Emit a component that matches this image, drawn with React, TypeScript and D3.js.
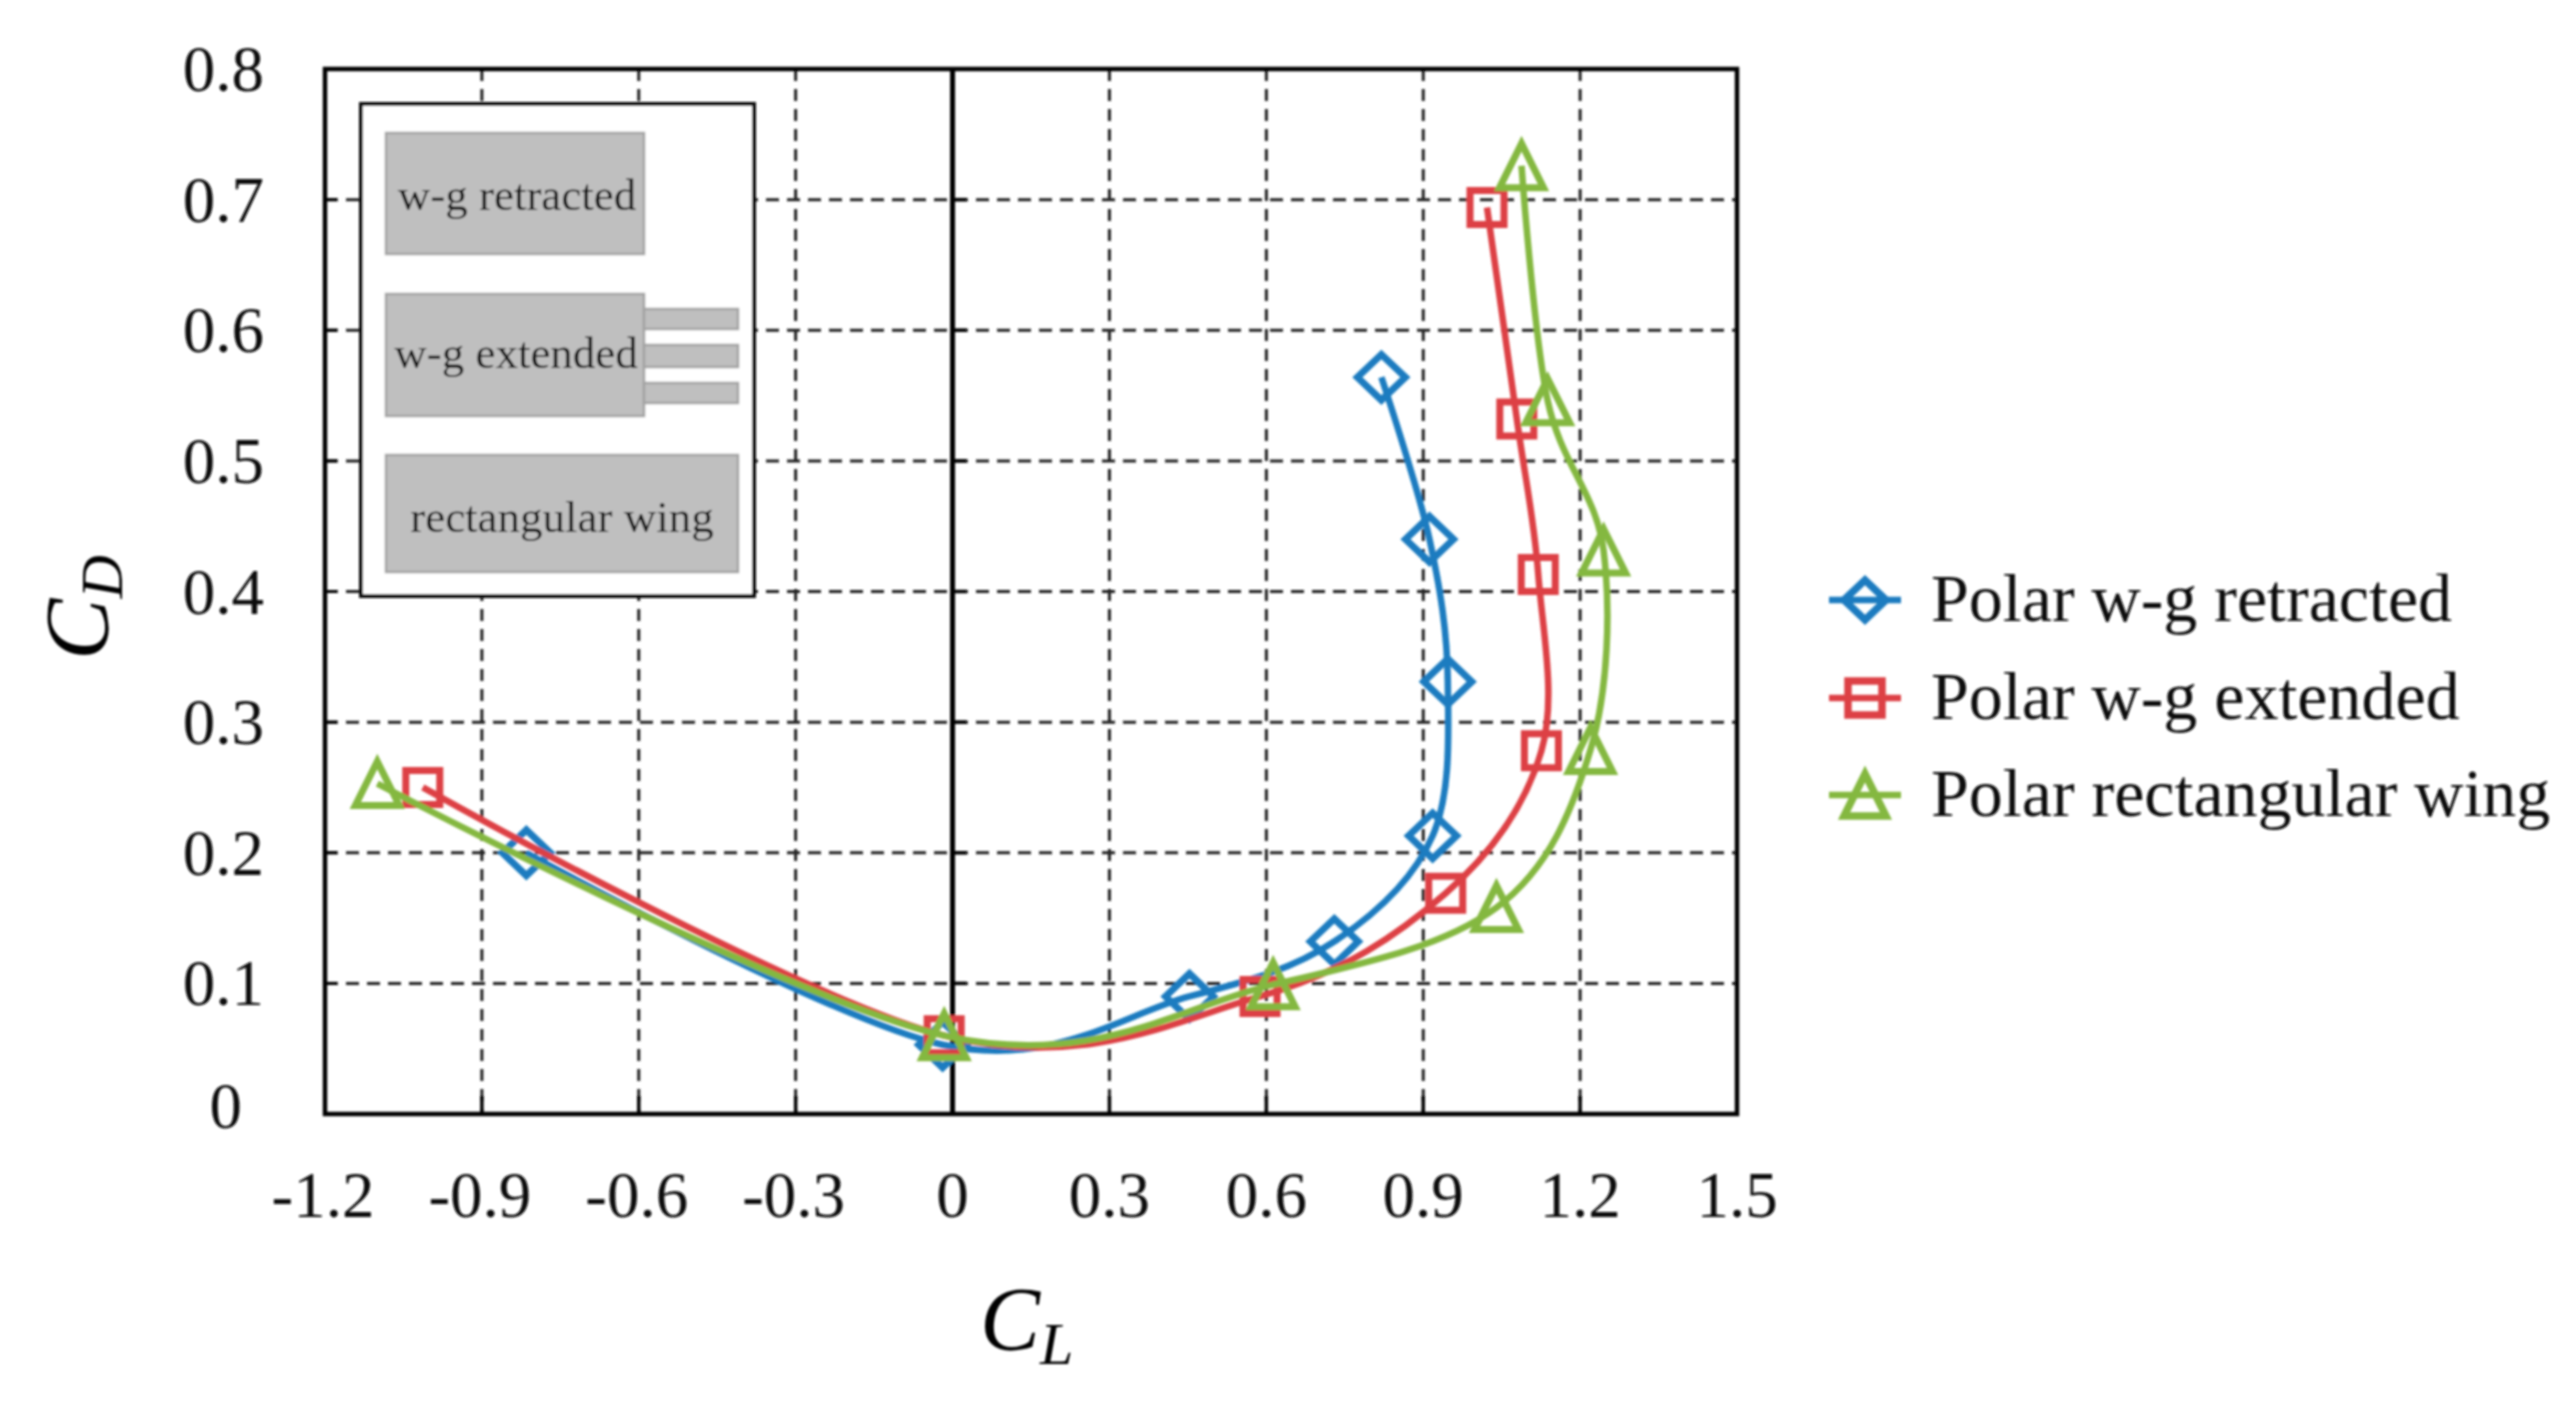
import React from 'react';
import * as d3 from 'd3';

const xTicks = [-1.2, -0.9, -0.6, -0.3, 0, 0.3, 0.6, 0.9, 1.2, 1.5];
const yTicks = [0, 0.1, 0.2, 0.3, 0.4, 0.5, 0.6, 0.7, 0.8];

// polar points, top of the curve first
const retractedCL = [0.82, 0.912, 0.947, 0.918, 0.73, 0.453, -0.019, -0.815];
const retractedCD = [0.564, 0.44, 0.331, 0.213, 0.132, 0.09, 0.053, 0.2];
const extendedCL = [1.022, 1.079, 1.12, 1.126, 0.943, 0.588, -0.016, -1.013];
const extendedCD = [0.694, 0.532, 0.413, 0.278, 0.169, 0.09, 0.06, 0.25];
const rectCL = [1.088, 1.138, 1.245, 1.22, 1.04, 0.613, -0.016, -1.1];
const rectCD = [0.726, 0.546, 0.431, 0.279, 0.158, 0.099, 0.06, 0.253];

const seriesNames = ['Polar w-g retracted', 'Polar w-g extended', 'Polar rectangular wing'];
const seriesColors = ['#1a7bc0', '#dd4044', '#84b840'];

const left = 325;
const right = 1737;
const top = 69;
const bottom = 1114;
const serif = '"Liberation Serif", "Times New Roman", serif';

const x = d3.scaleLinear().domain([-1.2, 1.5]).range([left, right]);
const y = d3.scaleLinear().domain([0, 0.8]).range([bottom, top]);

const line = d3
  .line<[number, number]>()
  .x(d => x(d[0]))
  .y(d => y(d[1]))
  .curve(d3.curveCardinal.tension(0));

const diamond = {
  draw(ctx: any, r: number) {
    ctx.moveTo(-r, 0);
    ctx.lineTo(0, -r * 0.95);
    ctx.lineTo(r, 0);
    ctx.lineTo(0, r * 0.95);
    ctx.closePath();
  },
};
const square = {
  draw(ctx: any, r: number) {
    ctx.rect(-r, -r, 2 * r, 2 * r);
  },
};
const triangle = {
  draw(ctx: any, r: number) {
    ctx.moveTo(-r, r);
    ctx.lineTo(0, -r);
    ctx.lineTo(r, r);
    ctx.closePath();
  },
};

const markerPath = (type: any, r: number) => {
  const p = d3.path();
  type.draw(p, r);
  return p.toString();
};

const markers = [markerPath(diamond, 24), markerPath(square, 17), markerPath(triangle, 22)];
const legendMarkers = [markerPath(diamond, 21), markerPath(square, 17), markerPath(triangle, 21)];
const legendY = [600, 698, 795];

const series = [
  d3.zip(retractedCL, retractedCD) as [number, number][],
  d3.zip(extendedCL, extendedCD) as [number, number][],
  d3.zip(rectCL, rectCD) as [number, number][],
];

const App: React.FC = () => {
  return (
    <svg
      width={2576}
      height={1408}
      style={{ position: 'absolute', left: 0, top: 0, background: '#fff' }}
      fontFamily={serif}
    >
      <defs>
        <filter id="soft" x="-5%" y="-5%" width="110%" height="110%">
          <feGaussianBlur stdDeviation="1" />
        </filter>
      </defs>
      <g filter="url(#soft)">
        {/* grid */}
        {xTicks.slice(1, -1).filter(t => t !== 0).map(t => (
          <line key={t} x1={x(t)} x2={x(t)} y1={top} y2={bottom} stroke="#222" strokeWidth={3} strokeDasharray="12 8" />
        ))}
        {yTicks.slice(1, -1).map(t => (
          <line key={t} x1={left} x2={right} y1={y(t)} y2={y(t)} stroke="#222" strokeWidth={3} strokeDasharray="13 8" />
        ))}
        {/* ticks */}
        {xTicks.map(t => (
          <line key={t} x1={x(t)} x2={x(t)} y1={bottom} y2={bottom - 18} stroke="#000" strokeWidth={3.5} />
        ))}
        {yTicks.map(t => (
          <line key={t} x1={left} x2={left + 12} y1={y(t)} y2={y(t)} stroke="#000" strokeWidth={3} />
        ))}
        {yTicks.map(t => (
          <line key={t} x1={x(0)} x2={x(0) + 14} y1={y(t)} y2={y(t)} stroke="#000" strokeWidth={3.5} />
        ))}
        <line x1={x(0)} x2={x(0)} y1={top} y2={bottom} stroke="#000" strokeWidth={5} />
        <rect x={left} y={top} width={right - left} height={bottom - top} fill="none" stroke="#000" strokeWidth={4.5} />

        {/* inset sketch of the three wings */}
        <rect x={361} y={104} width={393} height={492} fill="#fff" stroke="#111" strokeWidth={4} />
        <g fill="#bfbfbf" stroke="#a3a3a3" strokeWidth={2.5}>
          <rect x={386} y={133} width={258} height={121} />
          <rect x={386} y={294} width={258} height={122} />
          <rect x={644} y={309} width={94} height={20} />
          <rect x={644} y={345} width={94} height={22} />
          <rect x={644} y={383} width={94} height={20} />
          <rect x={386} y={455} width={352} height={117} />
        </g>
        <g fill="#111" fontSize={45} textAnchor="middle">
          <text x={517} y={210}>w-g retracted</text>
          <text x={516} y={368}>w-g extended</text>
          <text x={562} y={532}>rectangular wing</text>
        </g>

        {/* polars */}
        {series.map((pts, i) => (
          <g key={seriesNames[i]}>
            <path d={line(pts) || ''} fill="none" stroke={seriesColors[i]} strokeWidth={6.5} />
            {pts.map(p => (
              <path
                key={p[0]}
                d={markers[i]}
                transform={`translate(${x(p[0])},${y(p[1])})`}
                fill="none"
                stroke={seriesColors[i]}
                strokeWidth={7}
              />
            ))}
          </g>
        ))}

        {/* tick labels */}
        <g fontSize={65} fill="#111" textAnchor="middle">
          {xTicks.map(t => (
            <text key={t} x={x(t) - (t < 0 ? 2 : 0)} y={1217}>{t === 0 ? '0' : t.toFixed(1)}</text>
          ))}
        </g>
        <g fontSize={65} fill="#111" textAnchor="end">
          {yTicks.map(t => (
            <text key={t} x={t === 0 ? 242 : 264} y={y(t) + (t === 0 ? 14 : 22)}>{t === 0 ? '0' : t.toFixed(1)}</text>
          ))}
        </g>

        {/* axis titles */}
        <text x={980} y={1350} fontSize={90} fontStyle="italic" fill="#000">
          C<tspan fontSize={60} dy={14}>L</tspan>
        </text>
        <text transform="translate(108,660) rotate(-90)" fontSize={92} fontStyle="italic" fill="#000">
          C<tspan fontSize={60} dy={14}>D</tspan>
        </text>

        {/* legend */}
        {seriesNames.map((name, i) => (
          <g key={name}>
            <line x1={1829} x2={1901} y1={legendY[i]} y2={legendY[i]} stroke={seriesColors[i]} strokeWidth={6.5} />
            <path
              d={legendMarkers[i]}
              transform={`translate(1865,${legendY[i]})`}
              fill="none"
              stroke={seriesColors[i]}
              strokeWidth={7.5}
            />
            <text x={1931} y={legendY[i] + 21} fontSize={68} fill="#111">{name}</text>
          </g>
        ))}
      </g>
    </svg>
  );
};

export default App;
